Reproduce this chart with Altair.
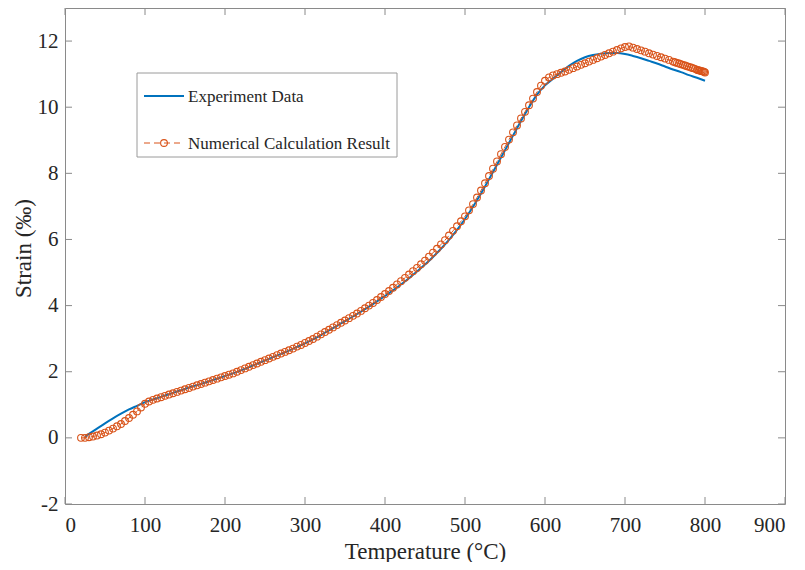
import altair as alt
import pandas as pd

# ---------------- data ----------------
exp_temp = [25, 30, 40, 50, 60, 70, 80, 90, 100, 110, 120, 130, 140, 150, 160, 170, 180, 190,
            200, 210, 220, 230, 240, 250, 260, 270, 280, 290, 300, 310, 320, 330, 340, 350,
            360, 370, 380, 390, 400, 410, 420, 430, 440, 450, 460, 470, 480, 490, 500, 510,
            520, 530, 540, 550, 560, 570, 580, 590, 600, 610, 620, 630, 640, 650, 660, 670,
            680, 690, 700, 710, 720, 730, 740, 750, 760, 770, 780, 790, 800]
exp_strain = [0.03, 0.12, 0.28, 0.44, 0.59, 0.73, 0.86, 0.97, 1.08, 1.16, 1.24, 1.32, 1.40, 1.48,
              1.56, 1.63, 1.71, 1.79, 1.87, 1.95, 2.04, 2.14, 2.24, 2.34, 2.44, 2.54, 2.64, 2.75,
              2.86, 2.98, 3.11, 3.25, 3.39, 3.53, 3.67, 3.82, 3.97, 4.13, 4.29, 4.46, 4.64, 4.83,
              5.03, 5.24, 5.47, 5.72, 5.99, 6.29, 6.62, 6.99, 7.39, 7.82, 8.26, 8.70, 9.14, 9.58,
              10.00, 10.38, 10.66, 10.86, 11.06, 11.25, 11.40, 11.51, 11.58, 11.62, 11.64, 11.64,
              11.61, 11.55, 11.48, 11.40, 11.32, 11.23, 11.14, 11.06, 10.97, 10.89, 10.80]

num_temp = [20, 25, 30, 35, 40, 45, 50, 55, 60, 65, 70, 75, 80, 85, 90, 95, 100, 105, 110, 115,
            120, 125, 130, 135, 140, 145, 150, 155, 160, 165, 170, 175, 180, 185, 190, 195, 200,
            205, 210, 215, 220, 225, 230, 235, 240, 245, 250, 255, 260, 265, 270, 275, 280, 285,
            290, 295, 300, 305, 310, 315, 320, 325, 330, 335, 340, 345, 350, 355, 360, 365, 370,
            375, 380, 385, 390, 395, 400, 405, 410, 415, 420, 425, 430, 435, 440, 445, 450, 455,
            460, 465, 470, 475, 480, 485, 490, 495, 500, 505, 510, 515, 520, 525, 530, 535, 540,
            545, 550, 555, 560, 565, 570, 575, 580, 585, 590, 595, 600, 605, 610, 615, 620, 625,
            630, 635, 640, 645, 650, 655, 660, 665, 670, 675, 680, 685, 690, 695, 700, 705, 710,
            715, 720, 725, 730, 735, 740, 745, 750, 755, 760, 762.5, 765, 767.5, 770, 772.5, 775,
            777.5, 780, 782.5, 785, 787.5, 790, 791.5, 793, 794.5, 796, 797.5, 799, 800]
num_strain = [0.00, 0.00, 0.02, 0.04, 0.07, 0.11, 0.16, 0.22, 0.28, 0.35, 0.42, 0.51, 0.60, 0.70,
              0.80, 0.92, 1.03, 1.10, 1.15, 1.19, 1.23, 1.27, 1.31, 1.35, 1.39, 1.43, 1.47, 1.51,
              1.55, 1.59, 1.63, 1.67, 1.71, 1.75, 1.79, 1.83, 1.87, 1.91, 1.95, 2.00, 2.05, 2.10,
              2.15, 2.20, 2.25, 2.30, 2.35, 2.40, 2.45, 2.50, 2.55, 2.60, 2.65, 2.70, 2.76, 2.81,
              2.87, 2.93, 2.99, 3.06, 3.13, 3.20, 3.27, 3.34, 3.41, 3.48, 3.55, 3.62, 3.69, 3.76,
              3.84, 3.92, 4.00, 4.08, 4.17, 4.26, 4.35, 4.44, 4.54, 4.64, 4.74, 4.84, 4.94, 5.04,
              5.14, 5.25, 5.36, 5.48, 5.60, 5.72, 5.85, 5.98, 6.12, 6.26, 6.40, 6.55, 6.70, 6.88,
              7.07, 7.27, 7.48, 7.70, 7.92, 8.14, 8.36, 8.58, 8.80, 9.02, 9.24, 9.45, 9.66, 9.86,
              10.06, 10.26, 10.46, 10.65, 10.80, 10.90, 10.96, 11.00, 11.04, 11.08, 11.13, 11.18,
              11.23, 11.28, 11.33, 11.38, 11.43, 11.48, 11.53, 11.58, 11.63, 11.68, 11.73, 11.78,
              11.82, 11.84, 11.80, 11.76, 11.72, 11.68, 11.63, 11.59, 11.55, 11.51, 11.47, 11.43,
              11.38, 11.36, 11.34, 11.32, 11.30, 11.28, 11.26, 11.24, 11.22, 11.20, 11.18, 11.16,
              11.13, 11.12, 11.11, 11.10, 11.09, 11.08, 11.07, 11.05]

x_ticks = [0, 100, 200, 300, 400, 500, 600, 700, 800, 900]
y_ticks = [-2, 0, 2, 4, 6, 8, 10, 12]

legend_labels = ["Experiment Data", "Numerical Calculation Result"]

BLUE = "#0072BD"
ORANGE = "#D95319"
AXIS = "#8a8a8a"
TEXT = "#262626"
FONT = "Liberation Serif"
W, H = 720, 496

exp_df = pd.DataFrame({"T": exp_temp, "S": exp_strain})
num_df = pd.DataFrame({"T": num_temp, "S": num_strain})
xt_df = pd.DataFrame({"v": x_ticks})
yt_df = pd.DataFrame({"v": y_ticks})

xscale = alt.Scale(domain=[0, 900], nice=False, zero=False)
yscale = alt.Scale(domain=[-2, 13], nice=False, zero=False)

xaxis = alt.Axis(values=x_ticks, ticks=False, grid=False, domain=False, labelFont=FONT,
                 labelFontSize=21, labelColor=TEXT, labelPadding=10, labelExpr="'' + datum.value",
                 title="Temperature (°C)",
                 titleFont=FONT, titleFontSize=23, titleFontWeight="normal", titleColor=TEXT,
                 titleX=360, titleY=54, titleBaseline="alphabetic", titleAlign="center")
yaxis = alt.Axis(values=y_ticks, ticks=False, grid=False, domain=False, labelFont=FONT,
                 labelFontSize=21, labelColor=TEXT, labelPadding=7, labelExpr="'' + datum.value",
                 title="Strain (‰)",
                 titleFont=FONT, titleFontSize=23, titleFontWeight="normal", titleColor=TEXT,
                 titleX=-35, titleY=240, titleBaseline="alphabetic", titleAlign="center",
                 titleAngle=270)

exp_line = alt.Chart(exp_df).mark_line(color=BLUE, strokeWidth=2, interpolate="monotone").encode(
    x=alt.X("T:Q", scale=xscale, axis=xaxis),
    y=alt.Y("S:Q", scale=yscale, axis=yaxis),
)
num_line = alt.Chart(num_df).mark_line(color=ORANGE, strokeWidth=1, strokeDash=[6, 4]).encode(
    x=alt.X("T:Q", scale=xscale), y=alt.Y("S:Q", scale=yscale)
)
num_pts = alt.Chart(num_df).mark_point(shape="circle", filled=False, color=ORANGE, size=46,
                                       strokeWidth=1.1, opacity=1).encode(
    x=alt.X("T:Q", scale=xscale), y=alt.Y("S:Q", scale=yscale)
)

# inward ticks on all four sides
tk = 7
xt_bottom = alt.Chart(xt_df).mark_rule(color=AXIS, strokeWidth=1).encode(
    x=alt.X("v:Q", scale=xscale), y=alt.value(H), y2=alt.value(H - tk))
xt_top = alt.Chart(xt_df).mark_rule(color=AXIS, strokeWidth=1).encode(
    x=alt.X("v:Q", scale=xscale), y=alt.value(0), y2=alt.value(tk))
yt_left = alt.Chart(yt_df).mark_rule(color=AXIS, strokeWidth=1).encode(
    y=alt.Y("v:Q", scale=yscale), x=alt.value(0), x2=alt.value(tk))
yt_right = alt.Chart(yt_df).mark_rule(color=AXIS, strokeWidth=1).encode(
    y=alt.Y("v:Q", scale=yscale), x=alt.value(W), x2=alt.value(W - tk))

# legend box
leg_df = pd.DataFrame({"label": legend_labels})
leg_box = alt.Chart(leg_df.head(1)).mark_rect(fill="white", stroke="#9a9a9a", strokeWidth=1).encode(
    x=alt.value(72), x2=alt.value(332), y=alt.value(65), y2=alt.value(149))
leg_l1 = alt.Chart(leg_df.head(1)).mark_rule(color=BLUE, strokeWidth=2).encode(
    x=alt.value(79), x2=alt.value(119), y=alt.value(88))
leg_l2 = alt.Chart(leg_df.head(1)).mark_rule(color=ORANGE, strokeWidth=1, strokeDash=[6, 4]).encode(
    x=alt.value(79), x2=alt.value(119), y=alt.value(135))
leg_p2 = alt.Chart(leg_df.head(1)).mark_point(shape="circle", filled=False, color=ORANGE, size=46,
                                             strokeWidth=1.1, opacity=1).encode(
    x=alt.value(99), y=alt.value(135))
leg_t1 = alt.Chart(leg_df.head(1)).mark_text(align="left", baseline="middle", font=FONT,
                                            fontSize=17, color=TEXT).encode(
    x=alt.value(123), y=alt.value(89), text="label:N")
leg_t2 = alt.Chart(leg_df.tail(1)).mark_text(align="left", baseline="middle", font=FONT,
                                            fontSize=17, color=TEXT).encode(
    x=alt.value(123), y=alt.value(136), text="label:N")

chart = alt.layer(
    exp_line, num_line, num_pts, xt_bottom, xt_top, yt_left, yt_right,
    leg_box, leg_l1, leg_l2, leg_p2, leg_t1, leg_t2
).properties(
    width=W, height=H,
    autosize=alt.AutoSizeParams(type="none"),
    padding={"left": 57, "top": 0, "right": 12, "bottom": 58},
    background="white",
).configure_view(
    stroke=AXIS, strokeWidth=1
)

chart.save("out.html", embed_options={"renderer": "svg", "actions": False})
